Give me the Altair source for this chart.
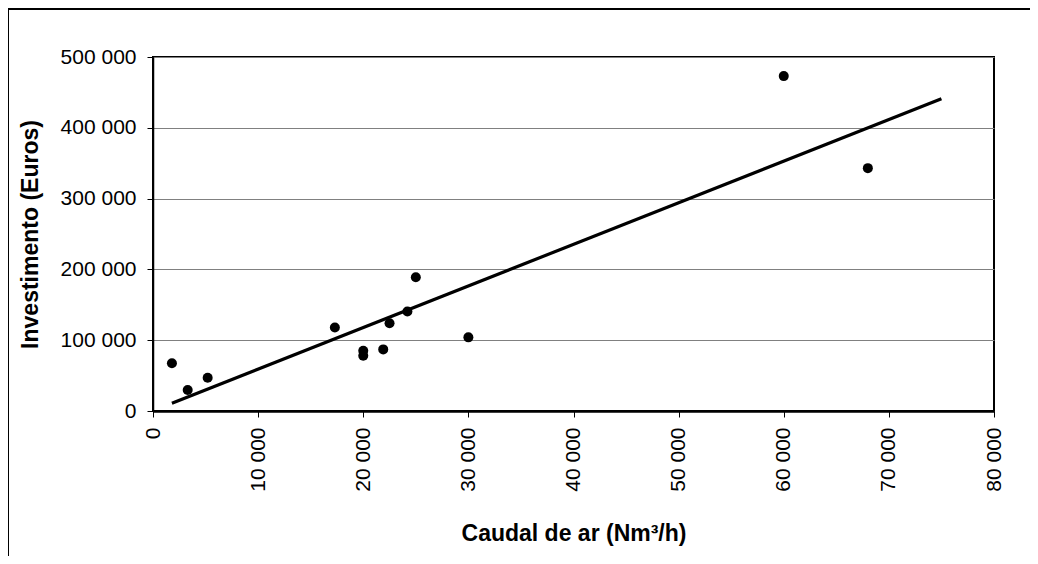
import altair as alt
import pandas as pd

# data
caudal = [1800, 3300, 5200, 17300, 20000, 20000, 21900, 22500, 24200, 25000, 30000, 60000, 68000]
investimento = [67500, 29700, 47000, 118000, 85000, 78000, 87000, 124000, 140500, 189000, 104000, 473000, 343000]
trend_x = [1800, 75000]
trend_y = [11000, 441000]
x_ticks = [0, 10000, 20000, 30000, 40000, 50000, 60000, 70000, 80000]
y_ticks = [0, 100000, 200000, 300000, 400000, 500000]

pts = pd.DataFrame({"x": caudal, "y": investimento})
trend = pd.DataFrame({"x": trend_x, "y": trend_y})

W, H = 841, 354
PAD = {"left": 145, "top": 49, "right": 36, "bottom": 145}
FONT = "Liberation Sans"
label_expr = "replace(format(datum.value, ','), ',', ' ')"

xscale = alt.Scale(domain=[0, 80000], nice=False, zero=True)
yscale = alt.Scale(domain=[0, 500000], nice=False, zero=True)

xaxis = alt.Axis(
    values=x_ticks, labelExpr=label_expr, labelAngle=-90, labelFont=FONT,
    labelFontSize=21, labelColor="black", labelPadding=10,
    tickSize=6, tickColor="black", tickWidth=1,
    domainColor="black", domainWidth=2.5, grid=False,
    title="Caudal de ar (Nm³/h)", titleFont=FONT, titleFontSize=23,
    titleFontWeight="bold", titleColor="black", titleY=129,
    titleBaseline="alphabetic",
)
yaxis = alt.Axis(
    values=y_ticks, labelExpr=label_expr, labelFont=FONT, labelFontSize=21,
    labelColor="black", labelPadding=11, tickSize=6, tickColor="black",
    tickWidth=1, domainColor="black", domainWidth=1.5,
    grid=True, gridColor="#808080", gridWidth=1,
    title="Investimento (Euros)", titleFont=FONT, titleFontSize=23,
    titleFontWeight="bold", titleColor="black", titleX=-116, titleY=H / 2,
    titleBaseline="alphabetic", titleAngle=270, titleAlign="center",
)

frame = alt.Chart(alt.Data(values=[{"a": 1}])).mark_rect(
    fill=None, stroke="black", strokeWidth=2
).encode(
    x=alt.value(-PAD["left"]), x2=alt.value(W + PAD["right"] + 20),
    y=alt.value(-PAD["top"] + 1), y2=alt.value(H + PAD["bottom"] + 20),
)

points = alt.Chart(pts).mark_circle(size=100, color="black", opacity=1).encode(
    x=alt.X("x:Q", scale=xscale, axis=xaxis),
    y=alt.Y("y:Q", scale=yscale, axis=yaxis),
)

line = alt.Chart(trend).mark_line(color="black", strokeWidth=3.2).encode(
    x=alt.X("x:Q", scale=xscale),
    y=alt.Y("y:Q", scale=yscale),
)

chart = alt.layer(frame, points, line).properties(
    width=W, height=H,
    autosize=alt.AutoSizeParams(type="none"),
    padding=PAD,
    background="white",
).configure_view(stroke="black", strokeWidth=2)

chart.save("out.html", embed_options={"renderer": "svg", "actions": False})
